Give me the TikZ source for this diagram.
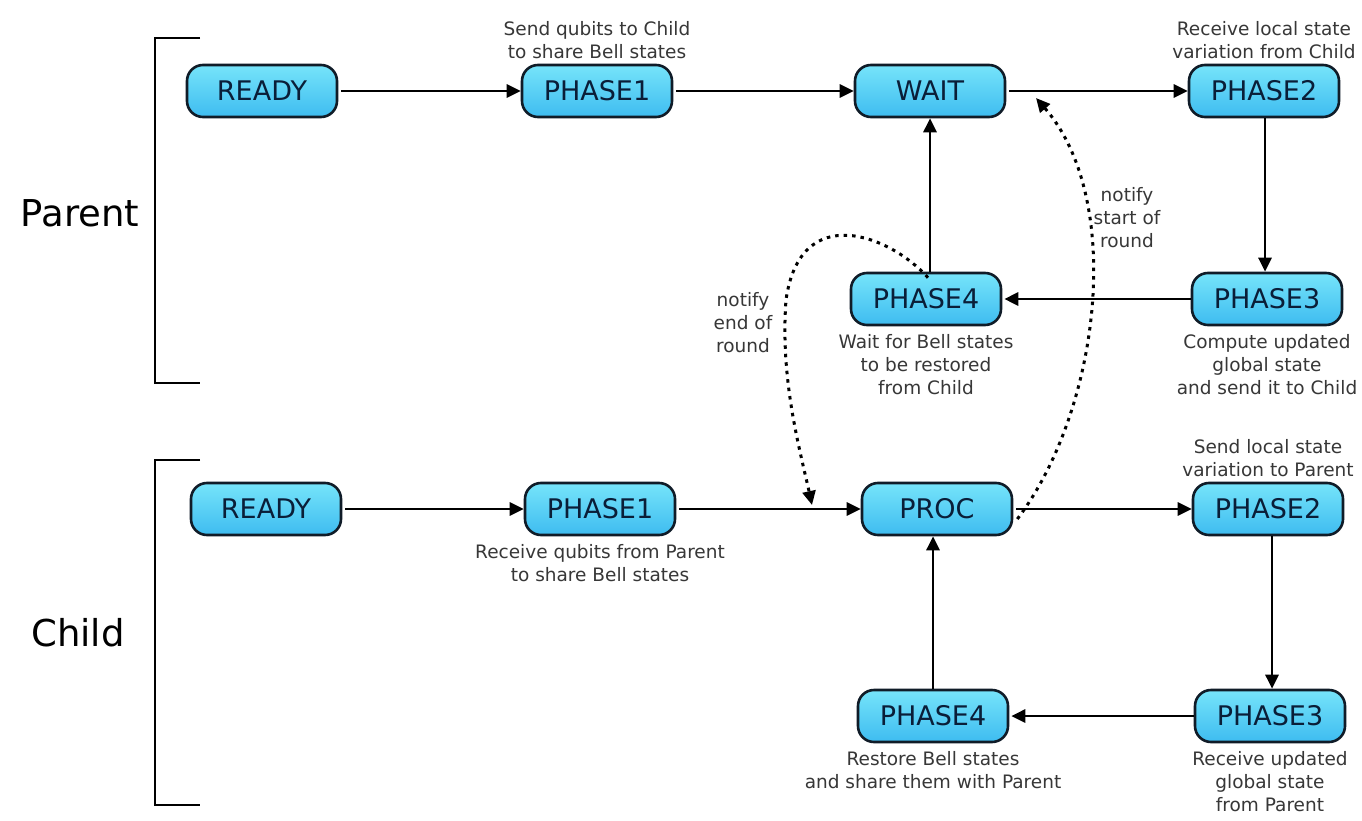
\documentclass[tikz,border=0pt]{standalone}
\usepackage{fontspec}
\setmainfont{DejaVu Sans}
\usetikzlibrary{arrows.meta}

\definecolor{boxtop}{RGB}{118,228,250}
\definecolor{boxbot}{RGB}{62,188,240}
\definecolor{boxline}{RGB}{16,28,40}
\definecolor{boxtext}{RGB}{10,30,56}
\definecolor{notetext}{RGB}{55,55,55}

\tikzset{
  state/.style={draw=boxline, line width=2.6pt, rounded corners=16pt,
    top color=boxtop, bottom color=boxbot,
    minimum width=150pt, minimum height=52pt, inner sep=0pt,
    text=boxtext, font=\fontsize{27}{30}\selectfont},
  note/.style={align=center, inner sep=0pt, text=notetext,
    font=\fontsize{18.5}{23}\selectfont},
  flow/.style={line width=2.8pt, draw=black,
    -{Triangle[length=14pt,width=13pt]}},
  signal/.style={line width=3pt, draw=black, dash pattern=on 3.5pt off 5pt,
    -{Triangle[length=14pt,width=13pt]}},
  bracket/.style={line width=2.8pt, draw=black},
  role/.style={inner sep=0pt, font=\fontsize{37}{40}\selectfont}
}

\begin{document}
\begin{tikzpicture}[x=1pt,y=-1pt]
\useasboundingbox (0,0) rectangle (1362,821);
\fill[white] (0,0) rectangle (1362,821);

% group brackets and role names
\draw[bracket] (200,38) -- (155,38) -- (155,383) -- (200,383);
\draw[bracket] (200,460) -- (155,460) -- (155,805) -- (200,805);
\node[role] (parentlbl) at (80,213) {Parent};
\node[role] (childlbl) at (78,633) {Child};

% parent states
\node[state] (pready) at (262,91) {READY};
\node[state] (pph1)   at (597,91) {PHASE1};
\node[state] (pwait)  at (930,91) {WAIT};
\node[state] (pph2)   at (1264,91) {PHASE2};
\node[state] (pph4)   at (926,299) {PHASE4};
\node[state] (pph3)   at (1267,299) {PHASE3};

% child states
\node[state] (cready) at (266,509) {READY};
\node[state] (cph1)   at (600,509) {PHASE1};
\node[state] (cproc)  at (937,509) {PROC};
\node[state] (cph2)   at (1268,509) {PHASE2};
\node[state] (cph4)   at (933,716) {PHASE4};
\node[state] (cph3)   at (1270,716) {PHASE3};

% state descriptions
\node[note, anchor=south] (n1) at ([yshift=5pt]pph1.north) {Send qubits to Child\\to share Bell states};
\node[note, anchor=south] (n2) at ([yshift=5pt]pph2.north) {Receive local state\\variation from Child};
\node[note, anchor=north] (n3) at ([yshift=-8pt]pph3.south) {Compute updated\\global state\\and send it to Child};
\node[note, anchor=north] (n4) at ([yshift=-8pt]pph4.south) {Wait for Bell states\\to be restored\\from Child};
\node[note, anchor=south] (n5) at ([yshift=5pt]cph2.north) {Send local state\\variation to Parent};
\node[note, anchor=north] (n6) at ([yshift=-8pt]cph1.south) {Receive qubits from Parent\\to share Bell states};
\node[note, anchor=north] (n7) at ([yshift=-8pt]cph4.south) {Restore Bell states\\and share them with Parent};
\node[note, anchor=north] (n8) at ([yshift=-8pt]cph3.south) {Receive updated\\global state\\from Parent};
\node[note] (endnote) at (743,323) {notify\\end of\\round};
\node[note] (startnote) at (1127,218) {notify\\start of\\round};

% parent transitions
\draw[flow] ([xshift=3pt]pready.east) -- (pph1.west);
\draw[flow] ([xshift=3pt]pph1.east) -- (pwait.west);
\draw[flow] ([xshift=3pt]pwait.east) -- (pph2.west);
\draw[flow] ([xshift=1pt]pph2.south) -- ([xshift=-2pt]pph3.north);
\draw[flow] (pph3.west) -- ([xshift=2pt]pph4.east);
\draw[flow] ([xshift=4pt]pph4.north) -- (pwait.south);

% child transitions
\draw[flow] ([xshift=3pt]cready.east) -- (cph1.west);
\draw[flow] ([xshift=3pt]cph1.east) -- (cproc.west);
\draw[flow] ([xshift=3pt]cproc.east) -- (cph2.west);
\draw[flow] ([xshift=4pt]cph2.south) -- ([xshift=2pt]cph3.north);
\draw[flow] (cph3.west) -- ([xshift=2pt]cph4.east);
\draw[flow] (cph4.north) -- ([xshift=-4pt]cproc.south);

% round notifications between parent and child
\coordinate (endtip) at (812,505);
\coordinate (starttip) at (1036,98);
\draw[signal] ([xshift=2pt,yshift=-6pt]pph4.north)
  .. controls (890,235) and (800,200) .. (786,300)
  .. controls (780,380) and (800,450) .. (endtip);
\draw[signal] ([xshift=4pt,yshift=-10pt]cproc.east)
  .. controls (1100,410) and (1125,200) .. (starttip);
\end{tikzpicture}
\end{document}
